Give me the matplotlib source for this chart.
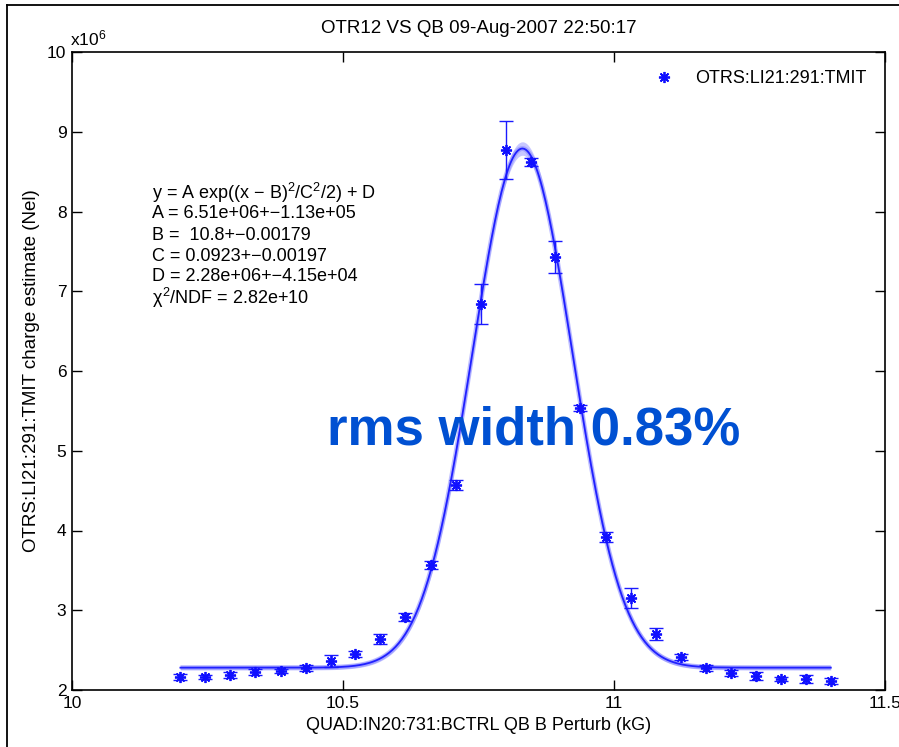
import numpy as np
import matplotlib
matplotlib.use("Agg")
import matplotlib.pyplot as plt
from matplotlib.lines import Line2D

plt.rcParams['font.family'] = ['Liberation Sans', 'DejaVu Sans']
plt.rcParams['mathtext.fontset'] = 'custom'
plt.rcParams['mathtext.rm'] = 'Liberation Sans'
plt.rcParams['mathtext.it'] = 'Liberation Sans'
plt.rcParams['mathtext.bf'] = 'Liberation Sans:bold'

# ---- data (units: x in kG, y in 1e6 Nel) ----
quad_kG = [10.200, 10.246, 10.292, 10.338, 10.385, 10.431, 10.477, 10.523, 10.569,
           10.615, 10.662, 10.708, 10.754, 10.800, 10.846, 10.892, 10.938, 10.985,
           11.031, 11.077, 11.123, 11.169, 11.215, 11.262, 11.308, 11.354, 11.400]
tmit_1e6 = [2.163, 2.163, 2.188, 2.226, 2.238, 2.276, 2.364, 2.452, 2.640,
            2.915, 3.567, 4.571, 6.840, 8.771, 8.621, 7.429, 5.536, 3.918,
            3.154, 2.702, 2.414, 2.276, 2.213, 2.176, 2.138, 2.138, 2.113]
tmit_err = [0.04, 0.03, 0.04, 0.04, 0.03, 0.04, 0.08, 0.04, 0.06,
            0.05, 0.05, 0.06, 0.25, 0.36, 0.05, 0.20, 0.04, 0.06,
            0.13, 0.08, 0.04, 0.04, 0.04, 0.05, 0.03, 0.05, 0.04]

# fit parameters (A, D in 1e6)
fit_A, fit_B, fit_C, fit_D = 6.51, 10.831, 0.0923, 2.28
err_A, err_B, err_C, err_D = 0.113, 0.00179, 0.00197, 0.0415

title_text = "OTR12 VS QB 09-Aug-2007 22:50:17"
xlabel_text = "QUAD:IN20:731:BCTRL QB B Perturb (kG)"
ylabel_text = "OTRS:LI21:291:TMIT charge estimate (Nel)"
legend_text = "OTRS:LI21:291:TMIT"
fit_lines = [
    r"y = A exp((x $-$ B)$^2$/C$^2$/2) + D",
    "A = 6.51e+06+\u22121.13e+05",
    "B =  10.8+\u22120.00179",
    "C = 0.0923+\u22120.00197",
    "D = 2.28e+06+\u22124.15e+04",
    r"$\chi^2$/NDF = 2.82e+10",
]
note_text = "rms width 0.83%"
xticks = [10, 10.5, 11, 11.5]
xtick_labels = ["10", "10.5", "11", "11.5"]
yticks = [2, 3, 4, 5, 6, 7, 8, 9, 10]

fig = plt.figure(figsize=(8.99, 7.47), dpi=100)
ax = fig.add_axes([72/899, 1-690/747, (885-72)/899, (690-52)/747])

blue = '#0000ff'
# fit curve and band
xf = np.linspace(quad_kG[0], quad_kG[-1], 400)
g = np.exp(-(xf - fit_B)**2 / (2*fit_C**2))
yf = fit_A*g + fit_D
dA = g
dB = fit_A*g*(xf - fit_B)/fit_C**2
dC = fit_A*g*(xf - fit_B)**2/fit_C**3
sig = np.sqrt((dA*err_A)**2 + (dB*err_B)**2 + (dC*err_C)**2 + err_D**2)
ax.fill_between(xf, yf - sig*0.7, yf + sig*0.7, color='#c8c8ff', lw=0, zorder=1)
ax.plot(xf, yf, color='#8080ff', lw=3.5, alpha=0.5, zorder=2, solid_capstyle='butt')
ax.plot(xf, yf, color='#2020ff', lw=1.3, zorder=3)

# data
ax.errorbar(quad_kG, tmit_1e6, yerr=tmit_err, fmt='none', ecolor='#1a1aff',
            elinewidth=1.0, capsize=5, capthick=1.0, zorder=4)
ax.plot(quad_kG, tmit_1e6, linestyle='none', marker=(8, 2, 0), markersize=8,
        markeredgewidth=1.3, color='#1010ff', zorder=5, label=legend_text)

ax.set_xlim(10, 11.5)
ax.set_ylim(2, 10)
ax.set_xticks(xticks)
ax.set_xticklabels(xtick_labels)
ax.set_yticks(yticks)
ax.tick_params(direction='in', top=True, right=True, length=7, width=1.0,
               labelsize=12.5, pad=4)
for s in ax.spines.values():
    s.set_linewidth(1.2)

ax.set_title(title_text, fontsize=13.5, pad=14)
ax.set_xlabel(xlabel_text, fontsize=13, labelpad=5)
ax.set_ylabel(ylabel_text, fontsize=13.5, labelpad=5)

fig.text(70/899, 1-38/747, r"x10$^6$", fontsize=12.5, ha='left', va='center')

leg = ax.legend(loc='upper right', frameon=False, fontsize=13, handletextpad=1.0,
                borderaxespad=0.6, handlelength=1.5)

for i, line in enumerate(fit_lines):
    fig.text(152/899, 1-(193 + i*21)/747, line, fontsize=13, ha='left', va='center')

fig.text(327/899, 1-430/747, note_text, fontsize=38, fontweight='bold',
         color='#0050d2', ha='left', va='center')

# outer frame
fig.add_artist(Line2D([7/899, 7/899], [0, 1-5/747], color='black', lw=1.3,
                      transform=fig.transFigure))
fig.add_artist(Line2D([7/899, 1], [1-5/747, 1-5/747], color='black', lw=1.3,
                      transform=fig.transFigure))

fig.savefig("out.png", dpi=100)
